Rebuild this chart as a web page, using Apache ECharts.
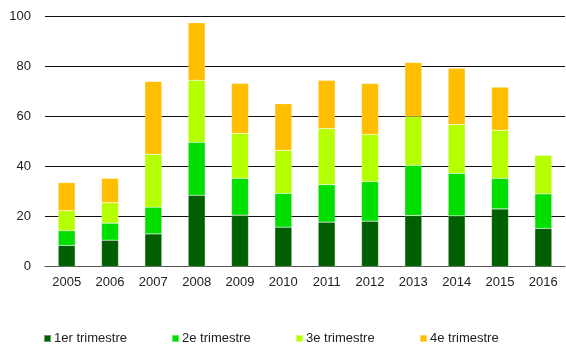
<!DOCTYPE html>
<html>
<head>
<meta charset="utf-8">
<script src="https://cdn.jsdelivr.net/npm/echarts@6/dist/echarts.min.js"></script>
<style>
  html, body { margin: 0; padding: 0; background: #fff; }
  #main { width: 566px; height: 347px; }
</style>
</head>
<body>
<div id="main"></div>
<script>
var years = ['2005', '2006', '2007', '2008', '2009', '2010', '2011', '2012', '2013', '2014', '2015', '2016'];
var q1 = [8.4, 10.5, 13.0, 28.4, 20.5, 15.7, 17.7, 18.1, 20.4, 20.2, 23.0, 15.2];
var q2 = [5.9, 6.8, 10.7, 21.2, 14.7, 13.5, 15.0, 15.8, 20.0, 17.0, 12.2, 13.8];
var q3 = [8.0, 8.2, 21.1, 24.8, 18.0, 17.1, 22.4, 18.8, 19.5, 19.5, 19.2, 15.4];
var q4 = [11.2, 9.7, 29.1, 22.9, 19.9, 18.7, 19.2, 20.4, 21.5, 22.4, 17.2, null];
var names = ['1er trimestre', '2e trimestre', '3e trimestre', '4e trimestre'];
var colors = ['#005f00', '#00df00', '#b5ff00', '#ffbf00'];

var chartDom = document.getElementById('main');
var myChart = echarts.init(chartDom);
var option;

var allData = [q1, q2, q3, q4];
var series = [];
for (var i = 0; i < allData.length; i++) {
    series.push({
        name: names[i],
        type: 'bar',
        stack: 'total',
        data: allData[i],
        barWidth: 17,
        itemStyle: {
            color: colors[i],
            borderColor: 'rgba(255,255,255,0.4)',
            borderWidth: 0.5
        }
    });
}

// une légende par série, placées à la main
var legendLeft = [43, 171, 295, 419];
var legends = [];
for (var k = 0; k < names.length; k++) {
    legends.push({
        data: [names[k]],
        left: legendLeft[k],
        top: 332,
        itemWidth: 7,
        itemHeight: 7,
        icon: 'rect',
        padding: 0,
        textStyle: {
            fontFamily: 'Liberation Sans',
            fontSize: 13,
            color: '#222',
            padding: [0, 0, 0, -2]
        }
    });
}

option = {
    animation: false,
    textStyle: { fontFamily: 'Liberation Sans' },
    grid: {
        left: 45,
        right: 1,
        top: 16,
        bottom: 80.5
    },
    legend: legends,
    xAxis: {
        type: 'category',
        data: years,
        axisTick: { show: false },
        axisLine: { lineStyle: { color: '#555', width: 1 } },
        axisLabel: {
            color: '#222',
            fontSize: 13,
            margin: 9
        }
    },
    yAxis: {
        type: 'value',
        min: 0,
        max: 100,
        interval: 20,
        axisLine: { show: false },
        axisTick: { show: false },
        axisLabel: {
            color: '#222',
            fontSize: 13,
            margin: 14
        },
        splitLine: { lineStyle: { color: '#111', width: 1 } }
    },
    series: series
};

option && myChart.setOption(option);
</script>
</body>
</html>
